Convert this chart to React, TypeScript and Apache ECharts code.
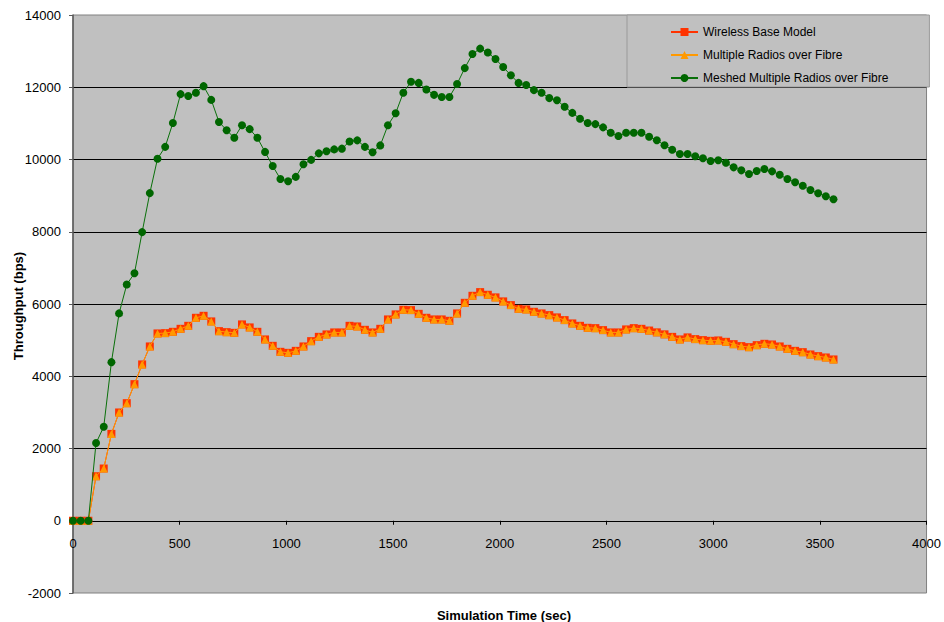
import React, { useEffect, useRef } from "react";
import * as echarts from "echarts";

const times = [
  0, 36, 72, 108, 144, 180, 216, 252, 288, 324,
  360, 396, 432, 468, 504, 540, 576, 612, 648, 684,
  720, 756, 792, 828, 864, 900, 936, 972, 1008, 1044,
  1080, 1116, 1152, 1188, 1224, 1260, 1296, 1332, 1368, 1404,
  1440, 1476, 1512, 1548, 1584, 1620, 1656, 1692, 1728, 1764,
  1800, 1836, 1872, 1908, 1944, 1980, 2016, 2052, 2088, 2124,
  2160, 2196, 2232, 2268, 2304, 2340, 2376, 2412, 2448, 2484,
  2520, 2556, 2592, 2628, 2664, 2700, 2736, 2772, 2808, 2844,
  2880, 2916, 2952, 2988, 3024, 3060, 3096, 3132, 3168, 3204,
  3240, 3276, 3312, 3348, 3384, 3420, 3456, 3492, 3528, 3564,
];

const wirelessBase = [
  0, 0, 0, 1233, 1446, 2404, 2997, 3255, 3781, 4327,
  4825, 5185, 5194, 5230, 5313, 5396, 5618, 5673, 5518, 5249,
  5221, 5202, 5435, 5352, 5230, 5019, 4842, 4676, 4648, 4703,
  4825, 4972, 5091, 5158, 5213, 5213, 5396, 5379, 5285, 5213,
  5313, 5573, 5712, 5839, 5831, 5728, 5618, 5573, 5573, 5535,
  5739, 6033, 6227, 6329, 6255, 6183, 6072, 5969, 5867, 5850,
  5784, 5739, 5692, 5629, 5554, 5462, 5396, 5341, 5332, 5277,
  5213, 5213, 5296, 5332, 5313, 5265, 5215, 5160, 5090, 5019,
  5075, 5028, 5000, 4981, 4991, 4953, 4889, 4834, 4806, 4861,
  4898, 4880, 4825, 4759, 4703, 4667, 4603, 4557, 4520, 4465,
];

const multipleRadios = [
  0, 0, 0, 1233, 1446, 2404, 2997, 3255, 3781, 4327,
  4825, 5185, 5194, 5230, 5313, 5396, 5618, 5673, 5518, 5249,
  5221, 5202, 5435, 5352, 5230, 5019, 4842, 4676, 4648, 4703,
  4825, 4972, 5091, 5158, 5213, 5213, 5396, 5379, 5285, 5213,
  5313, 5573, 5712, 5839, 5831, 5728, 5618, 5573, 5573, 5535,
  5739, 6033, 6227, 6329, 6255, 6183, 6072, 5969, 5867, 5850,
  5784, 5739, 5692, 5629, 5554, 5462, 5396, 5341, 5332, 5277,
  5213, 5213, 5296, 5332, 5313, 5265, 5215, 5160, 5090, 5019,
  5075, 5028, 5000, 4981, 4991, 4953, 4889, 4834, 4806, 4861,
  4898, 4880, 4825, 4759, 4703, 4667, 4603, 4557, 4520, 4465,
];

const meshedRadios = [
  0, 0, 0, 2150, 2600, 4390, 5740, 6540, 6850, 7990,
  9070, 10020, 10350, 11010, 11810, 11760, 11850, 12030, 11650, 11040,
  10810, 10600, 10950, 10840, 10600, 10210, 9820, 9460, 9400, 9520,
  9870, 9990, 10170, 10230, 10280, 10300, 10500, 10530, 10350, 10200,
  10390, 10950, 11280, 11850, 12150, 12120, 11940, 11790, 11730, 11730,
  12090, 12530, 12920, 13070, 12960, 12780, 12560, 12330, 12120, 12060,
  11920, 11850, 11700, 11640, 11460, 11290, 11130, 11010, 10980, 10890,
  10740, 10650, 10740, 10740, 10740, 10630, 10535, 10393, 10271, 10150,
  10152, 10088, 10033, 9958, 9977, 9911, 9783, 9700, 9598, 9681,
  9736, 9672, 9578, 9459, 9368, 9274, 9155, 9064, 8981, 8898,
];

const seriesNames = [
  "Wireless Base Model",
  "Multiple Radios over Fibre",
  "Meshed Multiple Radios over Fibre",
];

const xTitle = "Simulation Time (sec)";
const yTitle = "Throughput (bps)";

const FONT = "'Liberation Sans', Arial, sans-serif";

const GRID_TOP = 15;
const GRID_BOTTOM = 29;
const CHART_H = 622;
const Y_MIN = -2000;
const Y_MAX = 14000;

function pairs(values: number[]) {
  return values.map((v, i) => [times[i], v]);
}

export default function App() {
  const ref = useRef<HTMLDivElement>(null);

  useEffect(() => {
    if (!ref.current) return;
    const chart = echarts.init(ref.current, null, { renderer: "svg" });
    const plotH = CHART_H - GRID_TOP - GRID_BOTTOM;
    // distance from bottom edge of plot (y = Y_MIN) up to y = 0
    const zeroOffset = (plotH * (0 - Y_MIN)) / (Y_MAX - Y_MIN);
    chart.setOption({
      animation: false,
      backgroundColor: "#ffffff",
      textStyle: { fontFamily: FONT },
      grid: {
        left: 73,
        right: 16,
        top: GRID_TOP,
        bottom: GRID_BOTTOM,
        show: true,
        backgroundColor: "#C0C0C0",
        borderColor: "#808080",
        borderWidth: 1,
      },
      legend: {
        orient: "vertical",
        left: 627,
        top: 15,
        padding: [10, 41, 2, 43],
        itemWidth: 27,
        itemHeight: 10,
        itemGap: 9,
        backgroundColor: "#C0C0C0",
        borderColor: "#9a9a9a",
        borderWidth: 1,
        borderRadius: 0,
        textStyle: {
          fontFamily: FONT,
          fontSize: 12,
          color: "#000",
          lineHeight: 14,
        },
        data: seriesNames,
      },
      xAxis: {
        type: "value",
        min: 0,
        max: 4000,
        interval: 500,
        position: "bottom",
        offset: -zeroOffset,
        axisLine: { onZero: false, lineStyle: { color: "#000", width: 1 } },
        axisTick: { show: true, length: 4, lineStyle: { color: "#000" } },
        axisLabel: {
          fontSize: 13,
          color: "#000",
          margin: 16,
          fontFamily: FONT,
          showMaxLabel: true,
          showMinLabel: true,
          formatter: (v: number) => String(v),
        },
        splitLine: { show: false },
      },
      yAxis: {
        type: "value",
        min: Y_MIN,
        max: Y_MAX,
        interval: 2000,
        axisLine: { show: true, onZero: false, lineStyle: { color: "#5a5a5a", width: 1.5 } },
        axisTick: { show: true, length: 4, lineStyle: { color: "#5a5a5a" } },
        axisLabel: {
          fontSize: 13,
          color: "#000",
          margin: 12,
          fontFamily: FONT,
          formatter: (v: number) => String(v),
        },
        splitLine: {
          show: true,
          showMinLine: false,
          showMaxLine: false,
          lineStyle: { color: "#000", width: 1 },
        },
      },
      series: [
        {
          name: seriesNames[0],
          type: "line",
          data: pairs(wirelessBase),
          symbol: "rect",
          symbolSize: 8,
          lineStyle: { color: "#FF3300", width: 1 },
          itemStyle: { color: "#FF3300" },
          z: 2,
        },
        {
          name: seriesNames[1],
          type: "line",
          data: pairs(multipleRadios),
          symbol: "triangle",
          symbolSize: 8,
          lineStyle: { color: "#FF9900", width: 1 },
          itemStyle: { color: "#FF9900" },
          z: 3,
        },
        {
          name: seriesNames[2],
          type: "line",
          data: pairs(meshedRadios),
          symbol: "circle",
          symbolSize: 8,
          lineStyle: { color: "#0A700A", width: 1 },
          itemStyle: { color: "#006600" },
          z: 4,
        },
      ],
      graphic: [
        {
          type: "text",
          x: 18,
          y: 306,
          rotation: Math.PI / 2,
          style: {
            text: yTitle,
            fill: "#000",
            font: `bold 13px ${FONT}`,
            align: "center",
            verticalAlign: "middle",
          },
        },
        {
          type: "text",
          x: 504,
          y: 615,
          style: {
            text: xTitle,
            fill: "#000",
            font: `bold 13px ${FONT}`,
            align: "center",
            verticalAlign: "middle",
          },
        },
      ],
    });
    return () => chart.dispose();
  }, []);

  return (
    <div
      ref={ref}
      style={{ position: "fixed", left: 0, top: 0, width: 944, height: 622 }}
    />
  );
}
